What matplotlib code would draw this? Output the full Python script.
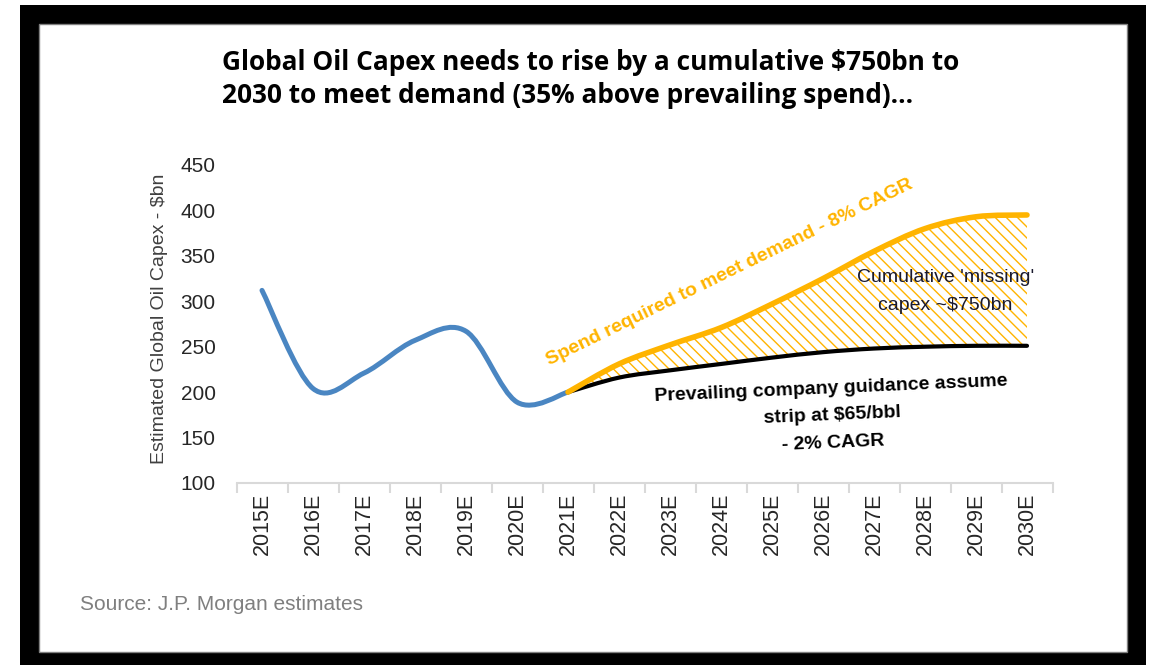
import numpy as np
import matplotlib.pyplot as plt
from matplotlib.path import Path
from matplotlib.patches import PathPatch, Rectangle

# data
years = ['2015E', '2016E', '2017E', '2018E', '2019E', '2020E', '2021E', '2022E',
         '2023E', '2024E', '2025E', '2026E', '2027E', '2028E', '2029E', '2030E']
hist = [312, 204, 221, 257, 267, 189, 200]            # 2015E-2021E
required = [200, 231, 252, 271, 297, 325, 355, 380, 393, 395]   # 2021E-2030E
guidance = [200, 216, 224, 231, 238, 244, 248, 250, 251, 251]   # 2021E-2030E

W, H = 1150, 665
SANS = ['Liberation Sans', 'DejaVu Sans']
ORANGE = '#ffb400'


def fx(x):
    return x / W


def fy(y):
    return 1 - y / H


def smooth_segments(xs, ys):
    # excel-like smoothed line: cubic bezier control points (tension 1/6)
    p = np.column_stack([xs, ys]).astype(float)
    n = len(p)
    verts = [p[0]]
    for i in range(n - 1):
        p0 = p[i - 1] if i > 0 else p[i]
        p3 = p[i + 2] if i + 2 < n else p[i + 1]
        c1 = p[i] + (p[i + 1] - p0) / 6
        c2 = p[i + 1] - (p3 - p[i]) / 6
        verts += [c1, c2, p[i + 1]]
    return np.array(verts)


def curve_path(xs, ys):
    v = smooth_segments(xs, ys)
    codes = [Path.MOVETO] + [Path.CURVE4] * (len(v) - 1)
    return Path(v, codes)


fig = plt.figure(figsize=(W / 100, H / 100), dpi=100)
fig.patch.set_facecolor('white')
fig.patches.append(Rectangle((fx(20), 0), fx(1126), 1 - 5 / H, transform=fig.transFigure,
                             facecolor='black', edgecolor='none', zorder=-10))
fig.patches.append(Rectangle((fx(39), fy(652)), fx(1088), 628 / H, transform=fig.transFigure,
                             facecolor='white', edgecolor='#808080', lw=1, zorder=-9))

ax = fig.add_axes([fx(236.5), fy(483), fx(816), (483 - 165) / H])
ax.set_zorder(1)
ax.set_facecolor('none')
ax.set_xlim(-0.5, 15.5)
ax.set_ylim(100, 450)

xh = np.arange(len(hist))
xf = np.arange(len(hist) - 1, len(years))

# hatched gap between required and guidance
up = smooth_segments(xf, required)
lo = smooth_segments(xf, guidance)[::-1]
verts = np.vstack([up, lo, up[:1]])
codes = ([Path.MOVETO] + [Path.CURVE4] * (len(up) - 1) + [Path.LINETO]
         + [Path.CURVE4] * (len(lo) - 1) + [Path.CLOSEPOLY])
plt.rcParams['hatch.linewidth'] = 1.0
ax.add_patch(PathPatch(Path(verts, codes), facecolor='white', edgecolor=ORANGE,
                       hatch='\\\\\\', lw=0, zorder=1))

ax.add_patch(PathPatch(curve_path(xh, hist), fill=False, edgecolor='#4a86c2',
                       lw=3.6, capstyle='round', zorder=3))
ax.add_patch(PathPatch(curve_path(xf, guidance), fill=False, edgecolor='black',
                       lw=3.0, capstyle='round', zorder=3))
ax.add_patch(PathPatch(curve_path(xf, required), fill=False, edgecolor=ORANGE,
                       lw=4.0, capstyle='round', zorder=4))

for s in ['top', 'right', 'left']:
    ax.spines[s].set_visible(False)
ax.spines['bottom'].set_color('#d9d9d9')
ax.spines['bottom'].set_linewidth(1.5)

ax.set_yticks(np.arange(100, 451, 50))
ax.set_xticks(np.arange(len(years)))
ax.set_xticklabels(years, rotation=90)
ax.set_xticks(np.arange(-0.5, 15.6, 1), minor=True)
ax.tick_params(axis='x', which='major', length=0, pad=7, labelsize=15.5,
               labelcolor='#262626')
ax.tick_params(axis='x', which='minor', length=7, width=1.5, color='#d9d9d9')
ax.tick_params(axis='y', length=0, pad=15, labelsize=15, labelcolor='#262626')
for lab in ax.get_xticklabels() + ax.get_yticklabels():
    lab.set_family(SANS)

fig.text(fx(160), fy(319), 'Estimated Global Oil Capex - $bn', rotation=90,
         ha='center', va='center', fontsize=14, color='#404040', family=SANS)

ax.text(9.16, 332, 'Spend required to meet demand - 8% CAGR', rotation=26,
        rotation_mode='anchor', ha='center', va='center', fontsize=14,
        fontweight='bold', color=ORANGE, family=SANS, zorder=5)
ax.text(13.4, 311, "Cumulative 'missing'\ncapex ~$750bn", ha='center', va='center',
        fontsize=14, color='#1a1a2e', family=SANS, linespacing=1.85, zorder=5)
ax.text(11.18, 174, 'Prevailing company guidance assume\nstrip at $65/bbl\n- 2% CAGR',
        rotation=2.5, rotation_mode='anchor', ha='center', va='center',
        multialignment='center', fontsize=14, fontweight='bold', color='black',
        family=SANS, linespacing=1.8, zorder=5)

fig.text(fx(222), fy(49), 'Global Oil Capex needs to rise by a cumulative $750bn to\n'
         '2030 to meet demand (35% above prevailing spend)\u2026',
         ha='left', va='top', fontsize=18.9, fontweight='bold', color='black',
         family=['Open Sans', 'DejaVu Sans'], linespacing=1.28)

fig.text(fx(80), fy(605), 'Source: J.P. Morgan estimates', ha='left', va='center',
         fontsize=15, color='#7f7f7f', family=SANS)

fig.savefig('out.png', dpi=100)
